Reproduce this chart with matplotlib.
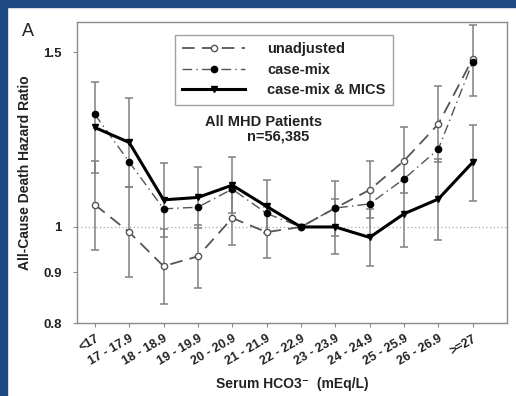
import numpy as np
import matplotlib
matplotlib.use("Agg")
import matplotlib.pyplot as plt
from matplotlib.lines import Line2D

plt.rcParams['font.family'] = ['Liberation Sans', 'DejaVu Sans']

bins = ["<17", "17 - 17.9", "18 - 18.9", "19 - 19.9", "20 - 20.9", "21 - 21.9",
        "22 - 22.9", "23 - 23.9", "24 - 24.9", "25 - 25.9", "26 - 26.9", ">=27"]

# hazard ratios with 95% CI
unadj = [1.053, 0.988, 0.913, 0.934, 1.021, 0.988, 1.0, 1.045, 1.090, 1.166, 1.270, 1.478]
unadj_lo = [0.948, 0.891, 0.837, 0.868, 0.959, 0.931, 1.0, 0.979, 1.020, 1.081, 1.162, 1.357]
unadj_hi = [1.165, 1.097, 0.995, 1.005, 1.087, 1.048, 1.0, 1.112, 1.165, 1.260, 1.387, 1.600]

casemix = [1.299, 1.163, 1.043, 1.047, 1.092, 1.032, 1.0, 1.045, 1.055, 1.118, 1.198, 1.467]

mics = [1.260, 1.217, 1.065, 1.071, 1.102, 1.049, 1.0, 1.0, 0.976, 1.031, 1.067, 1.162]
mics_lo = [1.133, 1.097, 0.978, 0.998, 1.034, 0.987, 1.0, 0.939, 0.914, 0.954, 0.971, 1.062]
mics_hi = [1.402, 1.348, 1.160, 1.149, 1.176, 1.115, 1.0, 1.067, 1.043, 1.113, 1.170, 1.266]

x = np.arange(len(bins))
unadj = np.array(unadj)
mics = np.array(mics)
txt = "#222222"
frame = "#8a8a8a"

fig = plt.figure(figsize=(5.16, 3.96), dpi=100)
fig.patch.set_facecolor("white")
# blue border strips
fig.patches.append(plt.Rectangle((0, 0), 7/516, 1, transform=fig.transFigure,
                                 color="#1d4a80", zorder=0))
fig.patches.append(plt.Rectangle((0, 1 - 7/396), 1, 7/396, transform=fig.transFigure,
                                 color="#1d4a80", zorder=0))

ax = fig.add_axes([77/516, 73/396, 430/516, 301/396])
ax.set_yscale("log")
ax.set_ylim(0.8, 1.61)
ax.set_xlim(-0.52, 12)

ax.axhline(1.0, color="#aaaaaa", lw=0.9, ls=(0, (1, 2)), zorder=1)

eb = dict(fmt="none", ecolor="#808080", elinewidth=1.1, capsize=3, capthick=1.1, zorder=2)
mask = x != 6
ax.errorbar(x[mask], unadj[mask],
            yerr=[unadj[mask] - np.array(unadj_lo)[mask], np.array(unadj_hi)[mask] - unadj[mask]], **eb)
ax.errorbar(x[mask], mics[mask],
            yerr=[mics[mask] - np.array(mics_lo)[mask], np.array(mics_hi)[mask] - mics[mask]], **eb)

ax.plot(x, unadj, color="#555555", lw=1.3, ls=(0, (7, 4)), marker="o", ms=4.5,
        mfc="white", mec="#555555", mew=1, zorder=3)
ax.plot(x, casemix, color="#555555", lw=1.0, ls=(0, (7, 3, 1, 3)), marker="o", ms=4.5,
        mfc="black", mec="black", zorder=3)
ax.plot(x, mics, color="black", lw=2.2, marker="v", ms=4.5, mfc="black", mec="black", zorder=4)

for s in ax.spines.values():
    s.set_color(frame)
    s.set_linewidth(1.0)

ax.set_yticks([0.8, 0.9, 1.0, 1.5])
ax.set_yticklabels(["0.8", "0.9", "1", "1.5"])
ax.yaxis.set_minor_locator(matplotlib.ticker.NullLocator())
ax.set_xticks(x)
ax.set_xticklabels(bins, rotation=30, ha="right", rotation_mode="anchor")
ax.tick_params(axis="both", direction="out", length=3, color=frame, labelsize=9)
ax.tick_params(axis="y", pad=8, labelsize=9.5)
ax.tick_params(axis="x", pad=4)
for lab in ax.get_xticklabels() + ax.get_yticklabels():
    lab.set_fontweight("bold")
    lab.set_color(txt)

ax.set_ylabel("All-Cause Death Hazard Ratio", fontsize=10, fontweight="bold", color=txt)
ax.yaxis.set_label_coords(-45/430, 0.5)
ax.set_xlabel("Serum HCO3\u207b  (mEq/L)", fontsize=10, fontweight="bold", color=txt)
ax.xaxis.set_label_coords(0.5, -54/301)

ax.text(0.433, 0.668, "All MHD Patients", transform=ax.transAxes, ha="center", va="center",
        fontsize=10.5, fontweight="bold", color=txt)
ax.text(0.467, 0.618, "n=56,385", transform=ax.transAxes, ha="center", va="center",
        fontsize=10.5, fontweight="bold", color=txt)

fig.text(22/516, 1 - 32/396, "A", fontsize=13, va="center", ha="left", color=txt)

handles = [
    Line2D([], [], color="#555555", lw=1.3, ls=(0, (7, 4)), marker="o", ms=4.5, mfc="white", mec="#555555"),
    Line2D([], [], color="#555555", lw=1.0, ls=(0, (7, 3, 1, 3)), marker="o", ms=4.5, mfc="black", mec="black"),
    Line2D([], [], color="black", lw=2.2, marker="v", ms=4.5, mfc="black", mec="black"),
]
leg = ax.legend(handles, ["unadjusted", "case-mix", "case-mix & MICS"], loc="upper left",
                bbox_to_anchor=(98/430, 1 - 13/301), borderaxespad=0, frameon=True, fancybox=False,
                edgecolor=frame, fontsize=10.5, handlelength=4.3, borderpad=0.5,
                labelspacing=0.45, handletextpad=1.5)
leg.get_frame().set_linewidth(1.0)
for t in leg.get_texts():
    t.set_fontweight("bold")
    t.set_color(txt)

fig.savefig("out.png", dpi=100)
